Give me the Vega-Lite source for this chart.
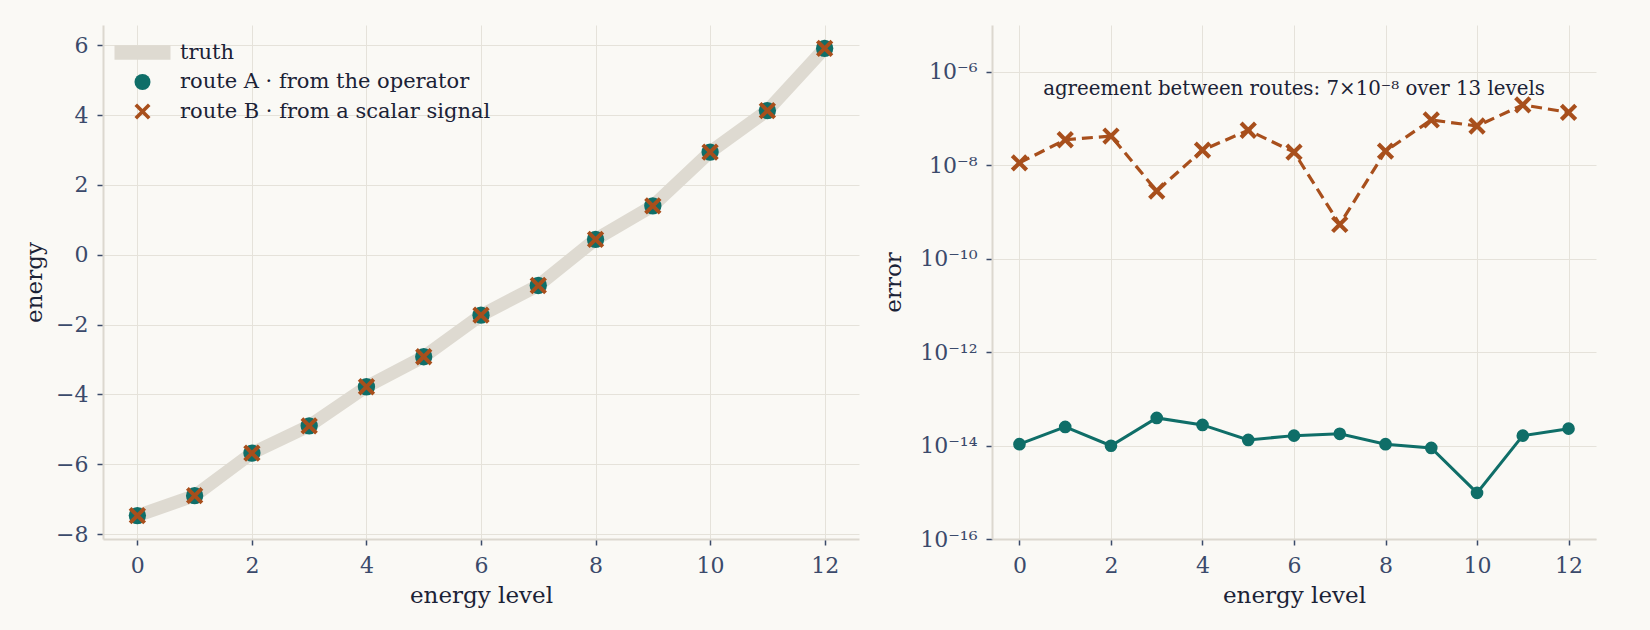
{
  "$schema": "https://vega.github.io/schema/vega-lite/v6.json",
  "background": "#faf9f5",
  "padding": {"left": 23, "top": 25, "right": 57, "bottom": 24},
  "datasets": {
    "energies": [
      {"level": 0, "series": "truth", "energy": -7.47},
      {"level": 1, "series": "truth", "energy": -6.90},
      {"level": 2, "series": "truth", "energy": -5.68},
      {"level": 3, "series": "truth", "energy": -4.90},
      {"level": 4, "series": "truth", "energy": -3.78},
      {"level": 5, "series": "truth", "energy": -2.92},
      {"level": 6, "series": "truth", "energy": -1.73},
      {"level": 7, "series": "truth", "energy": -0.88},
      {"level": 8, "series": "truth", "energy": 0.44},
      {"level": 9, "series": "truth", "energy": 1.40},
      {"level": 10, "series": "truth", "energy": 2.94},
      {"level": 11, "series": "truth", "energy": 4.13},
      {"level": 12, "series": "truth", "energy": 5.91},
      {"level": 0, "series": "route A · from the operator", "energy": -7.47},
      {"level": 1, "series": "route A · from the operator", "energy": -6.90},
      {"level": 2, "series": "route A · from the operator", "energy": -5.68},
      {"level": 3, "series": "route A · from the operator", "energy": -4.90},
      {"level": 4, "series": "route A · from the operator", "energy": -3.78},
      {"level": 5, "series": "route A · from the operator", "energy": -2.92},
      {"level": 6, "series": "route A · from the operator", "energy": -1.73},
      {"level": 7, "series": "route A · from the operator", "energy": -0.88},
      {"level": 8, "series": "route A · from the operator", "energy": 0.44},
      {"level": 9, "series": "route A · from the operator", "energy": 1.40},
      {"level": 10, "series": "route A · from the operator", "energy": 2.94},
      {"level": 11, "series": "route A · from the operator", "energy": 4.13},
      {"level": 12, "series": "route A · from the operator", "energy": 5.91},
      {"level": 0, "series": "route B · from a scalar signal", "energy": -7.47},
      {"level": 1, "series": "route B · from a scalar signal", "energy": -6.90},
      {"level": 2, "series": "route B · from a scalar signal", "energy": -5.68},
      {"level": 3, "series": "route B · from a scalar signal", "energy": -4.90},
      {"level": 4, "series": "route B · from a scalar signal", "energy": -3.78},
      {"level": 5, "series": "route B · from a scalar signal", "energy": -2.92},
      {"level": 6, "series": "route B · from a scalar signal", "energy": -1.73},
      {"level": 7, "series": "route B · from a scalar signal", "energy": -0.88},
      {"level": 8, "series": "route B · from a scalar signal", "energy": 0.44},
      {"level": 9, "series": "route B · from a scalar signal", "energy": 1.40},
      {"level": 10, "series": "route B · from a scalar signal", "energy": 2.94},
      {"level": 11, "series": "route B · from a scalar signal", "energy": 4.13},
      {"level": 12, "series": "route B · from a scalar signal", "energy": 5.91}
    ],
    "errors": [
      {"level": 0, "route": "A", "error": 1.07e-14},
      {"level": 1, "route": "A", "error": 2.5e-14},
      {"level": 2, "route": "A", "error": 0.99e-14},
      {"level": 3, "route": "A", "error": 3.9e-14},
      {"level": 4, "route": "A", "error": 2.76e-14},
      {"level": 5, "route": "A", "error": 1.32e-14},
      {"level": 6, "route": "A", "error": 1.63e-14},
      {"level": 7, "route": "A", "error": 1.78e-14},
      {"level": 8, "route": "A", "error": 1.07e-14},
      {"level": 9, "route": "A", "error": 8.9e-15},
      {"level": 10, "route": "A", "error": 9.7e-16},
      {"level": 11, "route": "A", "error": 1.63e-14},
      {"level": 12, "route": "A", "error": 2.3e-14},
      {"level": 0, "route": "B", "error": 1.12e-8},
      {"level": 1, "route": "B", "error": 3.5e-8},
      {"level": 2, "route": "B", "error": 4.2e-8},
      {"level": 3, "route": "B", "error": 2.8e-9},
      {"level": 4, "route": "B", "error": 2.1e-8},
      {"level": 5, "route": "B", "error": 5.6e-8},
      {"level": 6, "route": "B", "error": 1.9e-8},
      {"level": 7, "route": "B", "error": 5.4e-10},
      {"level": 8, "route": "B", "error": 2.0e-8},
      {"level": 9, "route": "B", "error": 9.3e-8},
      {"level": 10, "route": "B", "error": 6.9e-8},
      {"level": 11, "route": "B", "error": 1.95e-7},
      {"level": 12, "route": "B", "error": 1.35e-7}
    ],
    "note": [
      {"level": 6, "error": 4.3e-7, "text": "agreement between routes: 7×10⁻⁸ over 13 levels"}
    ]
  },
  "config": {
    "font": "DejaVu Serif",
    "view": {"stroke": null},
    "axis": {
      "labelFont": "DejaVu Serif",
      "labelFontSize": 22,
      "labelColor": "#3b4a6b",
      "titleFont": "DejaVu Serif",
      "titleFontSize": 23,
      "titleFontWeight": "normal",
      "titleColor": "#1b2236",
      "gridColor": "#e5e2da",
      "gridWidth": 1,
      "domainColor": "#dcd8cf",
      "domainWidth": 2,
      "tickColor": "#3b4a68",
      "tickSize": 6,
      "tickWidth": 1.5,
      "labelPadding": 9
    },
    "legend": {
      "labelFont": "DejaVu Serif",
      "labelFontSize": 21,
      "labelColor": "#1b2236",
      "labelLimit": 600
    }
  },
  "hconcat": [
    {
      "width": 756,
      "height": 514,
      "data": {"name": "energies"},
      "encoding": {
        "x": {
          "field": "level", "type": "quantitative",
          "scale": {"domain": [-0.6, 12.6], "nice": false, "zero": false},
          "axis": {"title": "energy level", "values": [0, 2, 4, 6, 8, 10, 12], "labelPadding": 10, "titlePadding": 8}
        },
        "y": {
          "field": "energy", "type": "quantitative",
          "scale": {"domain": [-8.14, 6.58], "nice": false, "zero": false},
          "axis": {"title": "energy", "values": [-8, -6, -4, -2, 0, 2, 4, 6], "titlePadding": 9,
                   "labelExpr": "replace(format(datum.value, 'd'), '-', '−')"}
        }
      },
      "layer": [
        {
          "transform": [{"filter": "datum.series == 'truth'"}],
          "mark": {"type": "line", "color": "#dedad1", "strokeWidth": 13, "strokeCap": "square", "strokeJoin": "round"}
        },
        {
          "transform": [{"filter": "datum.series != 'truth'"}],
          "mark": {"type": "point", "filled": true, "opacity": 1, "size": 300, "strokeWidth": 0},
          "encoding": {
            "color": {
              "field": "series", "type": "nominal",
              "scale": {
                "domain": ["truth", "route A · from the operator", "route B · from a scalar signal"],
                "range": ["#dedad1", "#0f6e68", "#a84f1c"]
              },
              "legend": {
                "title": null, "orient": "none", "legendX": 29, "legendY": 17, "padding": 0,
                "symbolSize": 256, "symbolStrokeWidth": 0, "symbolOpacity": 1,
                "labelOffset": 27, "rowPadding": 7.5
              }
            },
            "shape": {
              "field": "series", "type": "nominal",
              "scale": {
                "domain": ["truth", "route A · from the operator", "route B · from a scalar signal"],
                "range": ["M-3.5,-0.9H3.5V0.9H-3.5Z", "circle", "M-1,-0.68L-0.68,-1L1,0.68L0.68,1Z M-1,0.68L0.68,-1L1,-0.68L-0.68,1Z"]
              },
              "legend": {
                "title": null, "orient": "none", "legendX": 29, "legendY": 17, "padding": 0,
                "symbolSize": 256, "symbolStrokeWidth": 0, "symbolOpacity": 1,
                "labelOffset": 27, "rowPadding": 7.5
              }
            }
          }
        }
      ]
    },
    {
      "width": 604,
      "height": 514,
      "encoding": {
        "x": {
          "field": "level", "type": "quantitative",
          "scale": {"domain": [-0.6, 12.6], "nice": false, "zero": false},
          "axis": {"title": "energy level", "values": [0, 2, 4, 6, 8, 10, 12], "labelPadding": 10, "titlePadding": 8}
        },
        "y": {
          "field": "error", "type": "quantitative",
          "scale": {"type": "log", "domain": [1e-16, 1e-5], "nice": false},
          "axis": {
            "title": "error", "titlePadding": 14,
            "values": [1e-16, 1e-14, 1e-12, 1e-10, 1e-8, 1e-6],
            "labelExpr": "'10' + (datum.value > 5e-7 ? '⁻⁶' : datum.value > 5e-9 ? '⁻⁸' : datum.value > 5e-11 ? '⁻¹⁰' : datum.value > 5e-13 ? '⁻¹²' : datum.value > 5e-15 ? '⁻¹⁴' : '⁻¹⁶')"
          }
        }
      },
      "layer": [
        {
          "data": {"name": "errors"},
          "transform": [{"filter": "datum.route == 'B'"}],
          "mark": {"type": "line", "color": "#a84f1c", "strokeWidth": 3.2, "strokeDash": [11, 6]}
        },
        {
          "data": {"name": "errors"},
          "transform": [{"filter": "datum.route == 'B'"}],
          "mark": {"type": "point", "filled": true, "opacity": 1, "color": "#a84f1c", "strokeWidth": 0, "size": 300,
                   "shape": "M-1,-0.66L-0.66,-1L1,0.66L0.66,1Z M-1,0.66L0.66,-1L1,-0.66L-0.66,1Z"}
        },
        {
          "data": {"name": "errors"},
          "transform": [{"filter": "datum.route == 'A'"}],
          "mark": {"type": "line", "color": "#0f6e68", "strokeWidth": 3}
        },
        {
          "data": {"name": "errors"},
          "transform": [{"filter": "datum.route == 'A'"}],
          "mark": {"type": "point", "filled": true, "opacity": 1, "color": "#0f6e68", "strokeWidth": 0, "size": 160, "shape": "circle"}
        },
        {
          "data": {"name": "note"},
          "mark": {"type": "text", "fontSize": 19.8, "color": "#1b2236", "baseline": "middle", "align": "center", "font": "DejaVu Serif"},
          "encoding": {"text": {"field": "text"}}
        }
      ]
    }
  ],
  "spacing": 23
}
